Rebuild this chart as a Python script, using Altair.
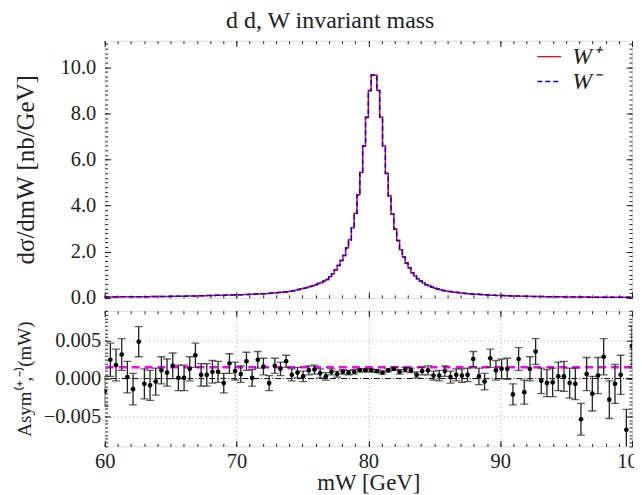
import altair as alt
import numpy as np
import pandas as pd

SERIF = "Liberation Serif"
INK = "#222222"
FRAME = "#444444"

# ---------------- data ----------------
series_names = ["W⁺", "W⁻"]

wplus_vals = [
    0.040, 0.040, 0.041, 0.042, 0.042, 0.043, 0.044, 0.045, 0.046, 0.047,
    0.048, 0.049, 0.050, 0.051, 0.052, 0.053, 0.054, 0.056, 0.057, 0.058,
    0.060, 0.061, 0.063, 0.065, 0.066, 0.068, 0.070, 0.072, 0.074, 0.076,
    0.079, 0.081, 0.084, 0.087, 0.090, 0.093, 0.097, 0.100, 0.104, 0.108,
    0.110, 0.113, 0.116, 0.119, 0.122, 0.126, 0.130, 0.134, 0.138, 0.142,
    0.147, 0.152, 0.157, 0.163, 0.169, 0.176, 0.183, 0.191, 0.199, 0.208,
    0.218, 0.229, 0.241, 0.254, 0.268,
    0.29, 0.31, 0.335, 0.36, 0.39, 0.42, 0.45, 0.49, 0.53, 0.57, 0.62, 0.67, 0.73, 0.80,
    0.91, 1.05, 1.22, 1.40, 1.62, 1.84, 2.17, 2.52, 3.04, 3.67, 4.47, 5.44, 6.59, 7.84, 9.00, 9.67, 9.65,
    9.00, 7.84, 6.59, 5.40, 4.43, 3.64, 2.99, 2.49, 2.09, 1.77, 1.51, 1.30, 1.09, 0.95, 0.83, 0.73,
    0.64, 0.57, 0.51, 0.46, 0.42, 0.38, 0.35, 0.32,
    0.30, 0.28, 0.26, 0.245, 0.23, 0.215, 0.20, 0.19, 0.18, 0.17,
    0.16, 0.152, 0.144, 0.137, 0.130, 0.124, 0.118, 0.112, 0.107, 0.102,
    0.097, 0.093, 0.089, 0.085, 0.081, 0.078, 0.075, 0.072, 0.069, 0.066,
    0.064, 0.061, 0.059, 0.057, 0.055, 0.053, 0.051, 0.049, 0.047, 0.046,
    0.044, 0.043, 0.041, 0.040, 0.039, 0.037, 0.036, 0.035, 0.034, 0.033,
    0.032, 0.031, 0.030, 0.029, 0.029, 0.028, 0.027, 0.026, 0.026, 0.025,
    0.024, 0.024, 0.023, 0.023, 0.022, 0.022,
]

wminus_vals = [
    0.040, 0.040, 0.041, 0.042, 0.042, 0.043, 0.044, 0.045, 0.046, 0.047,
    0.048, 0.049, 0.050, 0.051, 0.052, 0.053, 0.054, 0.056, 0.057, 0.058,
    0.060, 0.061, 0.063, 0.065, 0.066, 0.068, 0.070, 0.072, 0.074, 0.076,
    0.079, 0.081, 0.084, 0.087, 0.090, 0.093, 0.097, 0.100, 0.104, 0.108,
    0.110, 0.113, 0.116, 0.119, 0.122, 0.126, 0.130, 0.134, 0.138, 0.142,
    0.147, 0.152, 0.157, 0.163, 0.169, 0.176, 0.183, 0.191, 0.199, 0.208,
    0.218, 0.229, 0.241, 0.254, 0.268,
    0.29, 0.31, 0.335, 0.36, 0.39, 0.42, 0.45, 0.49, 0.53, 0.57, 0.62, 0.67, 0.73, 0.80,
    0.91, 1.05, 1.22, 1.40, 1.62, 1.84, 2.16, 2.51, 3.03, 3.66, 4.46, 5.43, 6.58, 7.82, 8.98, 9.65, 9.63,
    8.98, 7.82, 6.58, 5.39, 4.42, 3.63, 2.98, 2.49, 2.09, 1.77, 1.51, 1.30, 1.09, 0.95, 0.83, 0.73,
    0.64, 0.57, 0.51, 0.46, 0.42, 0.38, 0.35, 0.32,
    0.30, 0.28, 0.26, 0.245, 0.23, 0.215, 0.20, 0.19, 0.18, 0.17,
    0.16, 0.152, 0.144, 0.137, 0.130, 0.124, 0.118, 0.112, 0.107, 0.102,
    0.097, 0.093, 0.089, 0.085, 0.081, 0.078, 0.075, 0.072, 0.069, 0.066,
    0.064, 0.061, 0.059, 0.057, 0.055, 0.053, 0.051, 0.049, 0.047, 0.046,
    0.044, 0.043, 0.041, 0.040, 0.039, 0.037, 0.036, 0.035, 0.034, 0.033,
    0.032, 0.031, 0.030, 0.029, 0.029, 0.028, 0.027, 0.026, 0.026, 0.025,
    0.024, 0.024, 0.023, 0.023, 0.022, 0.022,
]

asym_vals = [
    -0.0017, 0.0025, 0.0018, 0.0032, 0.0002, -0.0014, 0.0049, -0.0007, -0.0009, -0.0004,
    0.0011, 0.0008, 0.0017, 0.0001, 0.0001, 0.0013, 0.0031, 0.0005, 0.0005, 0.0009,
    0.0009, -0.0006, 0.0020, 0.0010, 0.0006, 0.0023, 0.0001, 0.0025, 0.0016, -0.0006,
    0.0017, 0.0013, 0.0023, 0.0005, 0.0008, 0.0003, 0.0011, 0.0012, 0.0007, 0.0003,
    0.0009, 0.0006, 0.0009, 0.0008, 0.0009, 0.0011, 0.0011, 0.0011, 0.0010, 0.0008,
    0.0011, 0.0013, 0.0009, 0.0012, 0.0011, 0.0005, 0.0010, 0.0011, 0.0004, 0.0004,
    0.0010, 0.0002, 0.0005, 0.0004, 0.0005, 0.0026, 0.0003, -0.0004, 0.0027, 0.0011,
    0.0013, 0.0013, -0.0021, 0.0026, -0.0018, 0.0013, 0.0036, -0.0003, -0.0006, -0.0005,
    0.0003, 0.0003, -0.0006, -0.0007, -0.0054, 0.0006, -0.0020, 0.0004, 0.0029, -0.0028,
    -0.0007, 0.0005, -0.0068, 0.0043,
]

asym_errs = [
    0.0020, 0.0022, 0.0021, 0.0021, 0.0021, 0.0021, 0.0020, 0.0020, 0.0020, 0.0018,
    0.0018, 0.0018, 0.0017, 0.0017, 0.0017, 0.0016, 0.0016, 0.0015, 0.0015, 0.0015,
    0.0014, 0.0013, 0.0013, 0.0012, 0.0011, 0.0012, 0.0011, 0.0011, 0.0011, 0.0010,
    0.0010, 0.0009, 0.0008, 0.0008, 0.0007, 0.0007, 0.0006, 0.0006, 0.0006, 0.0005,
    0.0004, 0.0004, 0.0003, 0.0003, 0.0003, 0.0002, 0.0002, 0.0002, 0.0002, 0.0002,
    0.0002, 0.0002, 0.0003, 0.0003, 0.0003, 0.0004, 0.0005, 0.0006, 0.0006, 0.0007,
    0.0007, 0.0008, 0.0008, 0.0009, 0.0009, 0.0010, 0.0011, 0.0011, 0.0012, 0.0013,
    0.0013, 0.0014, 0.0014, 0.0015, 0.0016, 0.0016, 0.0017, 0.0017, 0.0018, 0.0019,
    0.0019, 0.0020, 0.0020, 0.0021, 0.0021, 0.0022, 0.0023, 0.0024, 0.0024, 0.0025,
    0.0026, 0.0026, 0.0027, 0.0027,
]

fit_level = [0.0015]
zero_level = [0.0]

x_major = [60, 70, 80, 90, 100]
x_minor = list(range(60, 101))
top_y_major = [0, 2, 4, 6, 8, 10]
top_y_minor = [round(0.2 * k, 1) for k in range(56)]
bot_y_major = [-0.005, 0.0, 0.005]
bot_y_minor = [round(-0.009 + 0.0005 * k, 4) for k in range(37)]
bot_grid_x = [70, 80, 90]
bot_grid_y = [-0.005, 0.005]

X_DOMAIN = [60, 100]
TOP_Y_DOMAIN = [0, 11.15]
BOT_Y_DOMAIN = [-0.009, 0.009]
W = 529
H_TOP = 258
H_BOT = 136

# ---------------- tables ----------------
n_bins = len(wplus_vals)
edges = np.linspace(X_DOMAIN[0], X_DOMAIN[1], n_bins + 1)
rows = []
for name, vals in zip(series_names, [wplus_vals, wminus_vals]):
    for k in range(n_bins):
        rows.append({"m": float(edges[k]), "v": vals[k], "s": name, "o": k})
    rows.append({"m": float(edges[-1]), "v": vals[-1], "s": name, "o": n_bins})
hist = pd.DataFrame(rows)

centers = np.linspace(X_DOMAIN[0], X_DOMAIN[1], len(asym_vals))
a = np.array(asym_vals)
e = np.array(asym_errs)
asym_df = pd.DataFrame({"m": centers, "a": a, "lo": a - e, "hi": a + e})

carrier_top = pd.DataFrame({"m": [60.0, 100.0], "v": [0.0, 10.0]})
carrier_bot = pd.DataFrame({"m": [60.0, 100.0], "v": [-0.005, 0.005]})

xs = alt.Scale(domain=X_DOMAIN, nice=False, zero=False)
yts = alt.Scale(domain=TOP_Y_DOMAIN, nice=False, zero=False)
ybs = alt.Scale(domain=BOT_Y_DOMAIN, nice=False, zero=False)


def tick_axis(orient, values, size, **extra):
    kw = dict(orient=orient, values=values, tickSize=size, offset=-size,
              domain=False, grid=False, labels=False, ticks=True,
              tickColor=INK, tickWidth=1, title=None)
    kw.update(extra)
    return alt.Axis(**kw)


def carrier(df, yscale, xaxis, yaxis):
    return alt.Chart(df).mark_point(opacity=0, size=1).encode(
        x=alt.X("m:Q", scale=xs, axis=xaxis),
        y=alt.Y("v:Q", scale=yscale, axis=yaxis),
    )


label_kw = dict(labelFont=SERIF, labelFontSize=20.5, labelColor=INK)
title_kw = dict(titleFont=SERIF, titleFontWeight="normal", titleColor=INK)

# ---------------- top panel ----------------
leg = alt.Legend(orient="none", legendX=W - 96, legendY=3, title=None, symbolType="stroke",
                 symbolSize=576, symbolStrokeWidth=1.5, labelFont=SERIF,
                 labelFontSize=24, labelFontStyle="italic", labelColor=INK,
                 rowPadding=0, padding=0, labelOffset=10)

hist_line = alt.Chart(hist).mark_line(interpolate="step-after", strokeWidth=1.5).encode(
    x=alt.X("m:Q", scale=xs, axis=None),
    y=alt.Y("v:Q", scale=yts, axis=None),
    color=alt.Color("s:N", scale=alt.Scale(domain=series_names, range=["#ff0000", "#0000ff"]), legend=leg),
    strokeDash=alt.StrokeDash("s:N", scale=alt.Scale(domain=series_names, range=[[1, 0], [5, 3]]), legend=leg),
    order="o:Q",
)

top = alt.layer(
    hist_line,
    carrier(carrier_top, yts,
            tick_axis("bottom", x_major, 6),
            tick_axis("left", top_y_major, 6, labels=True, format=".1f", labelPadding=9,
                      title="dσ/dmW [nb/GeV]", titleFontSize=25, titlePadding=22,
                      **label_kw, **title_kw)),
    carrier(carrier_top, yts, tick_axis("top", x_major, 6), tick_axis("right", top_y_major, 6)),
    carrier(carrier_top, yts, tick_axis("bottom", x_minor, 3), tick_axis("left", top_y_minor, 3)),
    carrier(carrier_top, yts, tick_axis("top", x_minor, 3), tick_axis("right", top_y_minor, 3)),
).resolve_axis(x="independent", y="independent").properties(width=W, height=H_TOP)

# ---------------- bottom panel ----------------
grid_layer = alt.Chart(carrier_bot).mark_point(opacity=0, size=1).encode(
    x=alt.X("m:Q", scale=xs, axis=alt.Axis(orient="bottom", values=bot_grid_x, grid=True,
                                           gridDash=[1, 3], gridColor="#aaaaaa", gridWidth=1,
                                           ticks=False, labels=False, domain=False, title=None)),
    y=alt.Y("v:Q", scale=ybs, axis=alt.Axis(orient="left", values=bot_grid_y, grid=True,
                                            gridDash=[1, 3], gridColor="#aaaaaa", gridWidth=1,
                                            ticks=False, labels=False, domain=False, title=None)),
)

zero_rule = alt.Chart(pd.DataFrame({"y": zero_level})).mark_rule(
    color="black", strokeWidth=1, strokeDash=[6, 2, 1, 2]
).encode(y=alt.Y("y:Q", scale=ybs, axis=None))

fit_rule = alt.Chart(pd.DataFrame({"y": fit_level})).mark_rule(
    color="#ff00ff", strokeWidth=2.5, strokeDash=[8, 5]
).encode(y=alt.Y("y:Q", scale=ybs, axis=None))

err = alt.Chart(asym_df).mark_errorbar(ticks={"size": 8}, thickness=1.3, color=INK, clip=True).encode(
    x=alt.X("m:Q", scale=xs, axis=None),
    y=alt.Y("lo:Q", scale=ybs, axis=None),
    y2="hi:Q",
)

pts = alt.Chart(asym_df).mark_circle(size=22, color="black", opacity=1, clip=True).encode(
    x=alt.X("m:Q", scale=xs, axis=None),
    y=alt.Y("a:Q", scale=ybs, axis=None),
)

bottom = alt.layer(
    grid_layer, zero_rule, fit_rule, err, pts,
    carrier(carrier_bot, ybs,
            tick_axis("bottom", x_major, 6, labels=True, format="d", labelFlush=False,
                      labelPadding=5, title="mW [GeV]", titleFontSize=23, titlePadding=0,
                      **label_kw, **title_kw),
            tick_axis("left", bot_y_major, 6, labels=True, format=".3f", labelPadding=4,
                      title="Asym⁽⁺,⁻⁾(mW)", titleFontSize=19, titlePadding=9,
                      **label_kw, **title_kw)),
    carrier(carrier_bot, ybs, tick_axis("top", x_major, 6), tick_axis("right", bot_y_major, 6)),
    carrier(carrier_bot, ybs, tick_axis("bottom", x_minor, 3), tick_axis("left", bot_y_minor, 3)),
    carrier(carrier_bot, ybs, tick_axis("top", x_minor, 3), tick_axis("right", bot_y_minor, 3)),
).resolve_axis(x="independent", y="independent").properties(width=W, height=H_BOT)

chart = alt.vconcat(top, bottom, spacing=13, bounds="flush").properties(
    title=alt.TitleParams("d d, W invariant mass", font=SERIF, fontSize=24,
                          fontWeight="normal", color=INK, anchor="middle", offset=7),
    padding={"left": 4, "top": 0, "right": -14, "bottom": 0},
).configure_view(stroke=FRAME, strokeWidth=1.5).configure(background="white")

chart.save("out.html", embed_options={"renderer": "svg", "actions": False})
